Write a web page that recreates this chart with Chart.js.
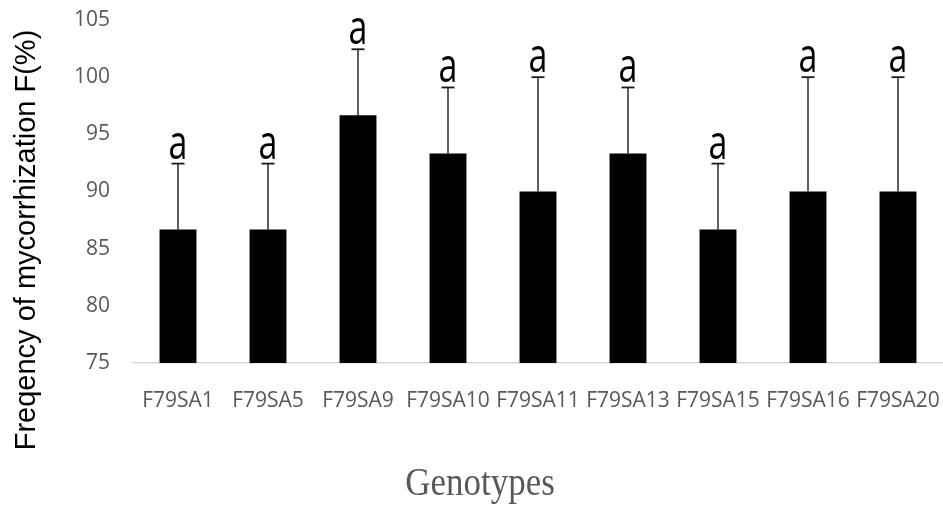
<!DOCTYPE html>
<html>
<head>
<meta charset="utf-8">
<script src="https://cdn.jsdelivr.net/npm/chart.js@4/dist/chart.umd.min.js"></script>
<style>
  html, body { margin: 0; padding: 0; background: #fff; }
  #wrap { width: 943px; height: 508px; position: relative; }
</style>
</head>
<body>
<div id="wrap"><canvas id="c" width="943" height="508"></canvas></div>
<script>
const categories = ['F79SA1', 'F79SA5', 'F79SA9', 'F79SA10', 'F79SA11', 'F79SA13', 'F79SA15', 'F79SA16', 'F79SA20'];
const meanValues = [86.67, 86.67, 96.67, 93.33, 90, 93.33, 86.67, 90, 90];
const errorValues = [5.77, 5.77, 5.77, 5.77, 10, 5.77, 5.77, 10, 10];
const letters = ['a', 'a', 'a', 'a', 'a', 'a', 'a', 'a', 'a'];
const yTicks = [75, 80, 85, 90, 95, 100, 105];
const yTitle = 'Freqency of mycorrhization F(%)';
const xTitle = 'Genotypes';

const extras = {
  id: 'extras',
  afterDatasetsDraw(chart) {
    const ctx = chart.ctx;
    const meta = chart.getDatasetMeta(0);
    const ys = chart.scales.y;
    ctx.save();
    meta.data.forEach((bar, i) => {
      const x = bar.x;
      const yTop = ys.getPixelForValue(meanValues[i] + errorValues[i]);
      const yBase = ys.getPixelForValue(meanValues[i]);
      ctx.strokeStyle = '#1a1a1a';
      ctx.lineWidth = 1.4;
      ctx.beginPath();
      ctx.moveTo(x, yBase);
      ctx.lineTo(x, yTop);
      ctx.stroke();
      ctx.lineWidth = 1.8;
      ctx.beginPath();
      ctx.moveTo(x - 6.5, yTop);
      ctx.lineTo(x + 6.5, yTop);
      ctx.stroke();
      ctx.save();
      ctx.translate(x, yTop - 5);
      ctx.scale(1, 1.38);
      ctx.fillStyle = '#000';
      ctx.font = '34px "Open Sans"';
      ctx.textAlign = 'center';
      ctx.textBaseline = 'alphabetic';
      ctx.fillText(letters[i], 0, 0);
      ctx.restore();
    });
    ctx.save();
    ctx.translate(27, 240);
    ctx.rotate(-Math.PI / 2);
    ctx.fillStyle = '#000';
    ctx.font = '29px "Liberation Sans"';
    ctx.textAlign = 'center';
    ctx.textBaseline = 'middle';
    ctx.fillText(yTitle, 0, 0);
    ctx.restore();
    ctx.save();
    ctx.translate(480, 484);
    ctx.scale(1, 1.15);
    ctx.fillStyle = '#595959';
    ctx.font = '35px "Liberation Serif"';
    ctx.textAlign = 'center';
    ctx.textBaseline = 'middle';
    ctx.fillText(xTitle, 0, 0);
    ctx.restore();
    ctx.restore();
  }
};

new Chart(document.getElementById('c'), {
  type: 'bar',
  data: {
    labels: categories,
    datasets: [{
      data: meanValues,
      backgroundColor: '#000',
      borderWidth: 0,
      categoryPercentage: 1,
      barPercentage: 0.41
    }]
  },
  options: {
    responsive: false,
    animation: false,
    layout: { padding: { top: 20, left: 0, right: 0, bottom: 0 } },
    plugins: { legend: { display: false }, tooltip: { enabled: false } },
    scales: {
      x: {
        grid: { display: false, drawTicks: false },
        border: { display: true, color: '#d9d9d9', width: 1.5 },
        ticks: {
          color: '#595959',
          font: { family: '"Open Sans"', size: 21 },
          padding: 25,
          maxRotation: 0,
          autoSkip: false
        },
        afterFit(scale) { scale.height = 145; scale.paddingLeft = 0; scale.paddingRight = 0; }
      },
      y: {
        min: 75,
        max: 105,
        afterBuildTicks(scale) { scale.ticks = yTicks.map(v => ({ value: v })); },
        grid: { display: false, drawTicks: false },
        border: { display: false },
        ticks: {
          color: '#595959',
          font: { family: '"Open Sans"', size: 21 },
          padding: 23
        },
        afterFit(scale) { scale.width = 133; scale.paddingTop = 0; scale.paddingBottom = 0; }
      }
    }
  },
  plugins: [extras]
});
</script>
</body>
</html>
